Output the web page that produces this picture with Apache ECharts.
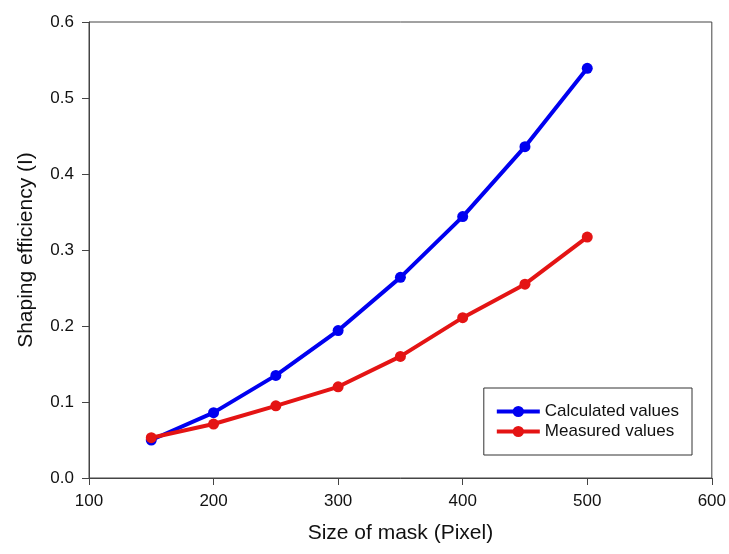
<!DOCTYPE html>
<html>
<head>
<meta charset="utf-8">
<title>Shaping efficiency</title>
<script src="https://cdn.jsdelivr.net/npm/echarts@6/dist/echarts.min.js"></script>
<style>
  html, body { margin: 0; padding: 0; background: #fff; }
  #main { width: 729px; height: 554px; }
</style>
</head>
<body>
<div id="main"></div>
<script>
  // mask size (Pixel)
  var maskSize = [150, 200, 250, 300, 350, 400, 450, 500];
  var calculated = [0.050, 0.086, 0.135, 0.194, 0.264, 0.344, 0.436, 0.539];
  var measured = [0.053, 0.071, 0.095, 0.120, 0.160, 0.211, 0.255, 0.317];

  function pairs(xs, ys) {
    return xs.map(function (x, i) { return [x, ys[i]]; });
  }

  var font = '"Liberation Sans", Arial, sans-serif';
  var chart = echarts.init(document.getElementById('main'));

  chart.setOption({
    animation: false,
    backgroundColor: '#fff',
    grid: {
      left: 89, right: 13, top: 22, bottom: 76,
      show: true, borderColor: '#444', borderWidth: 1
    },
    legend: {
      right: 37, top: 388,
      orient: 'vertical',
      itemWidth: 43, itemHeight: 14, itemGap: 3,
      padding: [15, 13, 15, 11],
      borderColor: '#333', borderWidth: 1,
      lineStyle: { width: 4 },
      textStyle: { fontFamily: font, fontSize: 17, color: '#111' },
      data: ['Calculated values', 'Measured values']
    },
    xAxis: {
      type: 'value', min: 100, max: 600, interval: 100,
      name: 'Size of mask (Pixel)', nameLocation: 'middle', nameGap: 45,
      nameTextStyle: { fontFamily: font, fontSize: 21, color: '#111' },
      axisLine: { lineStyle: { color: '#444' } },
      axisTick: { length: 7, lineStyle: { color: '#444' } },
      axisLabel: { fontFamily: font, fontSize: 17, color: '#111', margin: 15 },
      splitLine: { show: false }
    },
    yAxis: {
      type: 'value', min: 0, max: 0.6, interval: 0.1,
      name: 'Shaping efficiency (I)', nameLocation: 'middle', nameGap: 52,
      nameTextStyle: { fontFamily: font, fontSize: 21, color: '#111' },
      axisLine: { show: true, lineStyle: { color: '#444' } },
      axisTick: { show: true, length: 7, lineStyle: { color: '#444' } },
      axisLabel: {
        fontFamily: font, fontSize: 17, color: '#111', margin: 15,
        formatter: function (v) { return v.toFixed(1); }
      },
      splitLine: { show: false }
    },
    series: [
      {
        name: 'Calculated values', type: 'line',
        data: pairs(maskSize, calculated),
        symbol: 'circle', symbolSize: 11,
        lineStyle: { width: 4, color: '#0000f0' },
        itemStyle: { color: '#0000f0' }
      },
      {
        name: 'Measured values', type: 'line',
        data: pairs(maskSize, measured),
        symbol: 'circle', symbolSize: 11,
        lineStyle: { width: 4, color: '#e41414' },
        itemStyle: { color: '#e41414' }
      }
    ]
  });
</script>
</body>
</html>
